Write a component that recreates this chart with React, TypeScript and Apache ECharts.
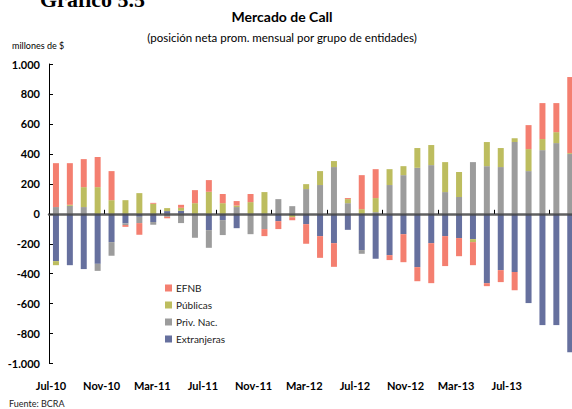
import React, { useEffect, useRef } from "react";
import * as echarts from "echarts";

const months = [
  "Jul-10","Aug-10","Sep-10","Oct-10","Nov-10","Dec-10","Jan-11","Feb-11","Mar-11","Apr-11","May-11","Jun-11",
  "Jul-11","Aug-11","Sep-11","Oct-11","Nov-11","Dec-11","Jan-12","Feb-12","Mar-12","Apr-12","May-12","Jun-12",
  "Jul-12","Aug-12","Sep-12","Oct-12","Nov-12","Dec-12","Jan-13","Feb-13","Mar-13","Apr-13","May-13","Jun-13",
  "Jul-13","Aug-13",
];

const tickLabels = ["Jul-10","Nov-10","Mar-11","Jul-11","Nov-11","Mar-12","Jul-12","Nov-12","Mar-13","Jul-13"];

const extranjeras = [
  -316,-343,-369,-334,-189,-64,-20,-55,18,20,0,-109,
  -42,-96,0,0,-49,-8,-69,-149,-196,-107,-242,-300,
  -276,-136,-356,-196,-149,-162,-169,-463,-376,-389,-596,-743,
  -743,-924,
];

const privNac = [
  45,53,45,-47,-91,-11,-42,-18,-20,-62,-160,-118,
  -100,45,-136,-102,98,51,165,192,312,71,-25,11,
  192,258,307,325,145,112,345,318,312,479,285,425,
  472,399,
];

const publicas = [
  -27,7,133,178,91,91,138,67,20,20,71,147,
  71,10,78,145,0,-15,33,93,40,27,31,94,
  106,60,132,134,200,167,-20,161,127,26,147,74,
  73,6,
];

const efnb = [
  293,278,187,201,194,-12,-78,6,-10,20,87,78,
  61,30,54,-47,-53,-20,-131,-145,-158,7,227,193,
  -33,-187,-94,-267,-200,-121,-154,-20,-80,-121,160,240,
  194,508,
];

const FONT = "Lato, 'Open Sans', sans-serif";

const fmt = (v: number) => {
  const s = String(Math.abs(v)).replace(/\B(?=(\d{3})+(?!\d))/g, ".");
  return (v < 0 ? "-" : "") + s;
};

export default function App() {
  const ref = useRef<HTMLDivElement>(null);
  useEffect(() => {
    if (!ref.current) return;
    const chart = echarts.init(ref.current, undefined, { renderer: "svg" });
    const barBase = { type: "bar", stack: "total", barWidth: 6, xAxisIndex: 0, yAxisIndex: 0 };
    chart.setOption({
      animation: false,
      backgroundColor: "#ffffff",
      textStyle: { fontFamily: FONT },
      grid: [
        { left: 49, top: 64, width: 528.2, height: 299.6 },
        { left: 25.7, top: 64, width: 506.4, height: 299.6 },
      ],
      legend: {
        orient: "vertical",
        left: 160,
        top: 278,
        itemWidth: 7,
        itemHeight: 7,
        itemGap: 7,
        icon: "rect",
        data: ["EFNB", "Públicas", "Priv. Nac.", "Extranjeras"],
        textStyle: { fontSize: 10, color: "#222", fontFamily: FONT, padding: [0, 0, 0, -1] },
      },
      xAxis: [
        {
          type: "category",
          gridIndex: 0,
          data: months,
          z: 10,
          axisLine: { onZero: true, lineStyle: { color: "rgba(70,70,70,0.85)", width: 2.5 } },
          axisTick: { show: true, inside: true, interval: 3, length: 4, lineStyle: { color: "#000", width: 1 } },
          axisLabel: { show: false },
          splitLine: { show: false },
        },
        {
          type: "category",
          gridIndex: 1,
          data: tickLabels,
          axisLine: { show: false },
          axisTick: { show: false },
          axisLabel: { show: true, interval: 0, fontSize: 11, fontWeight: "bold", color: "#000", margin: 16, fontFamily: FONT },
        },
      ],
      yAxis: [
        {
          type: "value",
          gridIndex: 0,
          min: -1000,
          max: 1000,
          interval: 200,
          axisLine: { show: true, lineStyle: { color: "#000", width: 1 } },
          axisTick: { show: true, inside: true, length: 4, lineStyle: { color: "#000" } },
          axisLabel: { formatter: fmt, fontSize: 11, fontWeight: "bold", color: "#000", margin: 9, fontFamily: FONT },
          splitLine: { show: false },
        },
        { type: "value", gridIndex: 1, show: false, min: -1000, max: 1000 },
      ],
      series: [
        { ...barBase, name: "Extranjeras", data: extranjeras, itemStyle: { color: "#66709E" } },
        { ...barBase, name: "Priv. Nac.", data: privNac, itemStyle: { color: "#9C9C9C" } },
        { ...barBase, name: "Públicas", data: publicas, itemStyle: { color: "#BDBD5F" } },
        { ...barBase, name: "EFNB", data: efnb, itemStyle: { color: "#F47F70" } },
      ],
      graphic: [
        {
          type: "text",
          left: 40,
          top: -12,
          style: { text: "Gráfico 5.5", font: "bold 22px 'Liberation Serif', serif", fill: "#000" },
        },
        {
          type: "text",
          x: 282,
          y: 16,
          style: { text: "Mercado de Call", font: `bold 14px ${FONT}`, fill: "#000", align: "center", verticalAlign: "middle" },
        },
        {
          type: "text",
          x: 282,
          y: 37,
          style: { text: "(posición neta prom. mensual por grupo de entidades)", font: `11.5px ${FONT}`, fill: "#000", align: "center", verticalAlign: "middle" },
        },
        {
          type: "text",
          x: 12,
          y: 45,
          style: { text: "millones de $", font: `9px ${FONT}`, fill: "#000", align: "left", verticalAlign: "middle" },
        },
        {
          type: "text",
          x: 9,
          y: 403,
          style: { text: "Fuente: BCRA", font: `9px ${FONT}`, fill: "#222", align: "left", verticalAlign: "middle" },
        },
      ],
    });
    return () => chart.dispose();
  }, []);
  return (
    <div
      ref={ref}
      style={{ position: "fixed", left: 0, top: 0, width: 580, height: 409, background: "#fff" }}
    />
  );
}
